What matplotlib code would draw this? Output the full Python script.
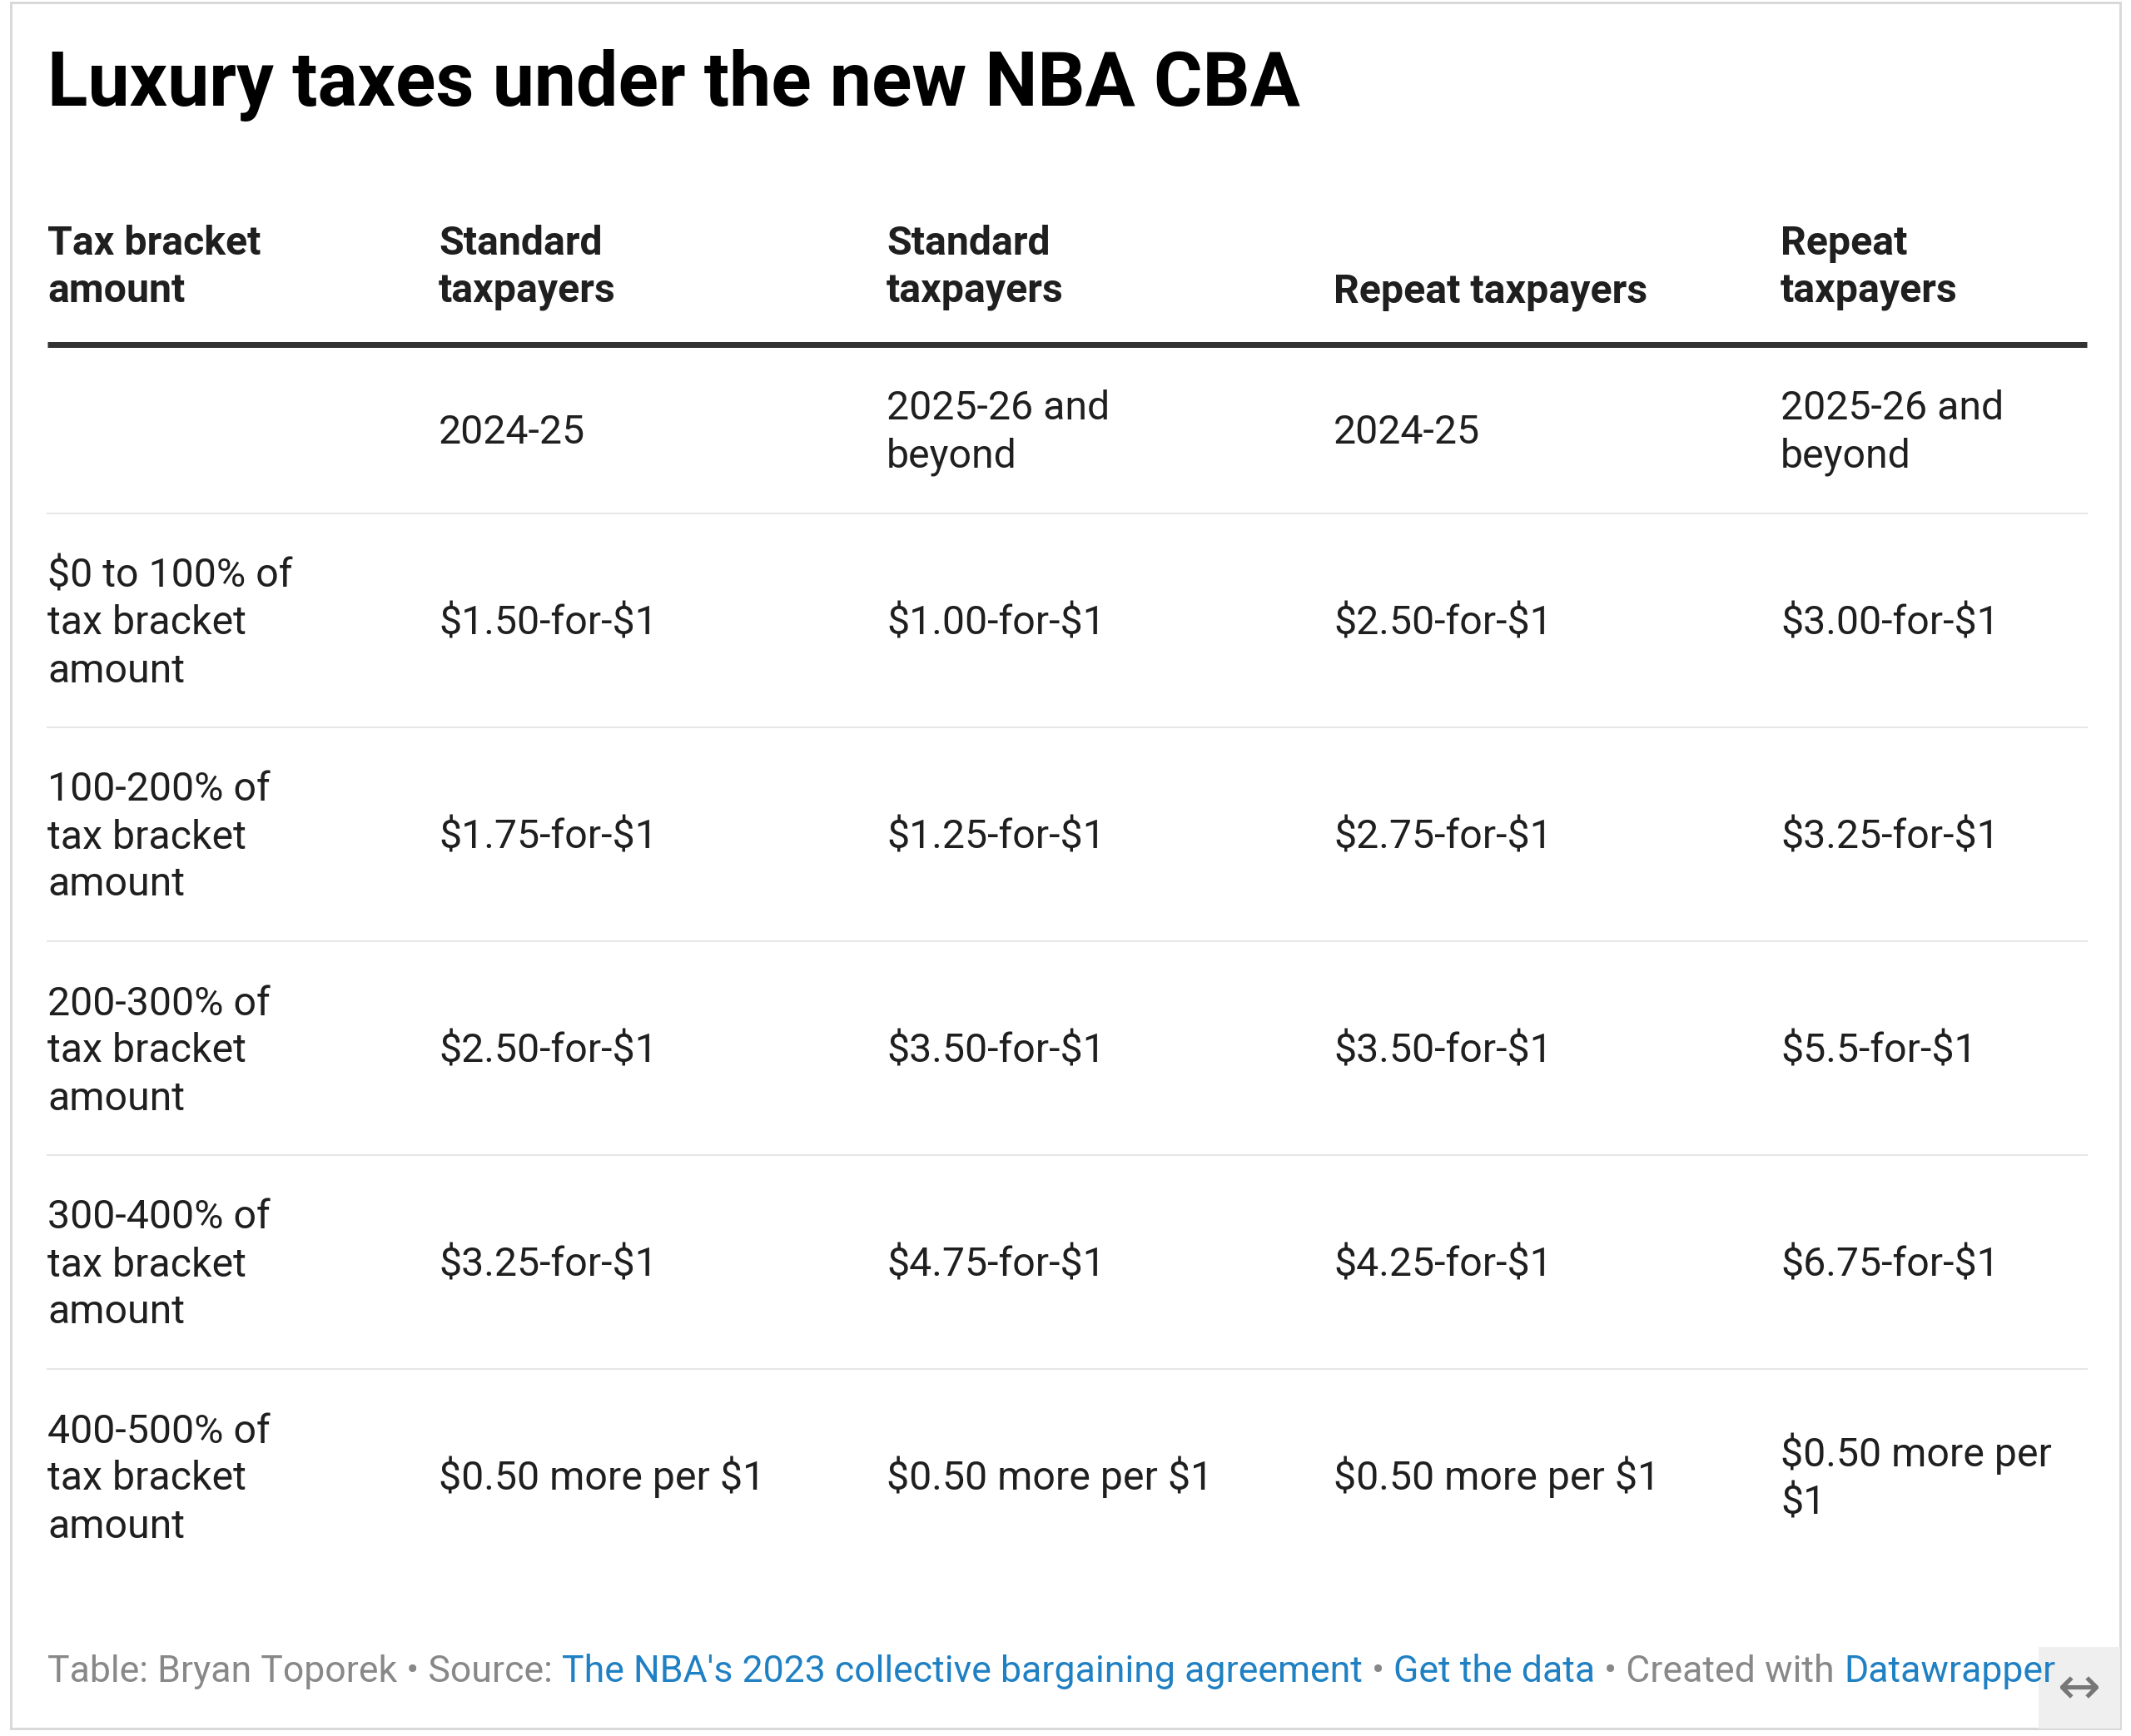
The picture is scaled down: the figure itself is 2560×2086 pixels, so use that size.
import matplotlib.pyplot as plt
from matplotlib.patches import Rectangle

# table content
title = "Luxury taxes under the new NBA CBA"
headers = ["Tax bracket\namount", "Standard\ntaxpayers", "Standard\ntaxpayers",
           "Repeat taxpayers", "Repeat\ntaxpayers"]
seasons = ["", "2024-25", "2025-26 and\nbeyond", "2024-25", "2025-26 and\nbeyond"]
brackets = ["$0 to 100% of\ntax bracket\namount",
            "100-200% of\ntax bracket\namount",
            "200-300% of\ntax bracket\namount",
            "300-400% of\ntax bracket\namount",
            "400-500% of\ntax bracket\namount"]
std_2425 = ["$1.50-for-$1", "$1.75-for-$1", "$2.50-for-$1", "$3.25-for-$1", "$0.50 more per $1"]
std_2526 = ["$1.00-for-$1", "$1.25-for-$1", "$3.50-for-$1", "$4.75-for-$1", "$0.50 more per $1"]
rep_2425 = ["$2.50-for-$1", "$2.75-for-$1", "$3.50-for-$1", "$4.25-for-$1", "$0.50 more per $1"]
rep_2526 = ["$3.00-for-$1", "$3.25-for-$1", "$5.5-for-$1", "$6.75-for-$1", "$0.50 more per\n$1"]

footer = [("Table: Bryan Toporek • Source: ", "#888888"),
          ("The NBA's 2023 collective bargaining agreement", "#1f80c3"),
          (" • ", "#888888"),
          ("Get the data", "#1f80c3"),
          (" • Created with ", "#888888"),
          ("Datawrapper", "#1f80c3")]

W, H = 2560, 2086
plt.rcParams['font.family'] = ['Roboto', 'DejaVu Sans']
plt.rcParams['text.parse_math'] = False
fig = plt.figure(figsize=(W / 72, H / 72), dpi=72)
ax = fig.add_axes([0, 0, 1, 1])
ax.set_xlim(0, W)
ax.set_ylim(H, 0)
ax.axis('off')

# outer frame and the little resize box
ax.add_patch(Rectangle((13, 3), 2534, 2074, fill=False, ec="#d9d9d9", lw=3))
ax.add_patch(Rectangle((2449, 1979), 98, 98, fc="#efefef", ec="none"))
ax.text(2498, 2030, "↔", fontsize=62, color="#777777", ha='center', va='center',
        family=['DejaVu Sans'])

ax.text(57, 127, title, fontsize=89.5, fontweight='bold', color="#000000", va='baseline')

col_x = [57, 527, 1065, 1602, 2139]
fs = 48.3
lh = 57
cap = 17
txt_color = "#1f1f1f"


def draw_lines(x, center, s, **kw):
    lines = s.split("\n")
    n = len(lines)
    for i, ln in enumerate(lines):
        y = center + (i - (n - 1) / 2) * lh + cap
        ax.text(x, y, ln, fontsize=fs, color=txt_color, va='baseline', **kw)


# header, bottom aligned
for x, h in zip(col_x, headers):
    lines = h.split("\n")
    for i, ln in enumerate(reversed(lines)):
        ax.text(x, 363 - i * lh, ln, fontsize=fs, fontweight='bold', color=txt_color,
                va='baseline')

ax.plot([57, 2507], [414, 414], color="#333333", lw=7, solid_capstyle='butt')

# season row
for x, s in zip(col_x, seasons):
    if s:
        draw_lines(x, 516, s)

row_top = 617
row_h = 257
ax.plot([57, 2507], [row_top, row_top], color="#e6e6e6", lw=2)
cols = [brackets, std_2425, std_2526, rep_2425, rep_2526]
for r in range(len(brackets)):
    center = row_top + row_h * r + row_h / 2
    for x, col in zip(col_x, cols):
        draw_lines(x, center, col[r])
    if r < len(brackets) - 1:
        yb = row_top + row_h * (r + 1)
        ax.plot([57, 2507], [yb, yb], color="#e6e6e6", lw=2)

# footer with links, placed piece by piece
fig.canvas.draw()
rend = fig.canvas.get_renderer()
ffs = 44.6


def width_of(s):
    t = ax.text(0, 0, s + "|", fontsize=ffs)
    w = t.get_window_extent(renderer=rend).width
    t.remove()
    return w


bar_w = width_of("")
prefix = ""
for s, c in footer:
    x = 57 + width_of(prefix) - bar_w
    ax.text(x, 2021, s, fontsize=ffs, color=c, va='baseline')
    prefix += s

fig.savefig("out.png", dpi=72, facecolor="white")
